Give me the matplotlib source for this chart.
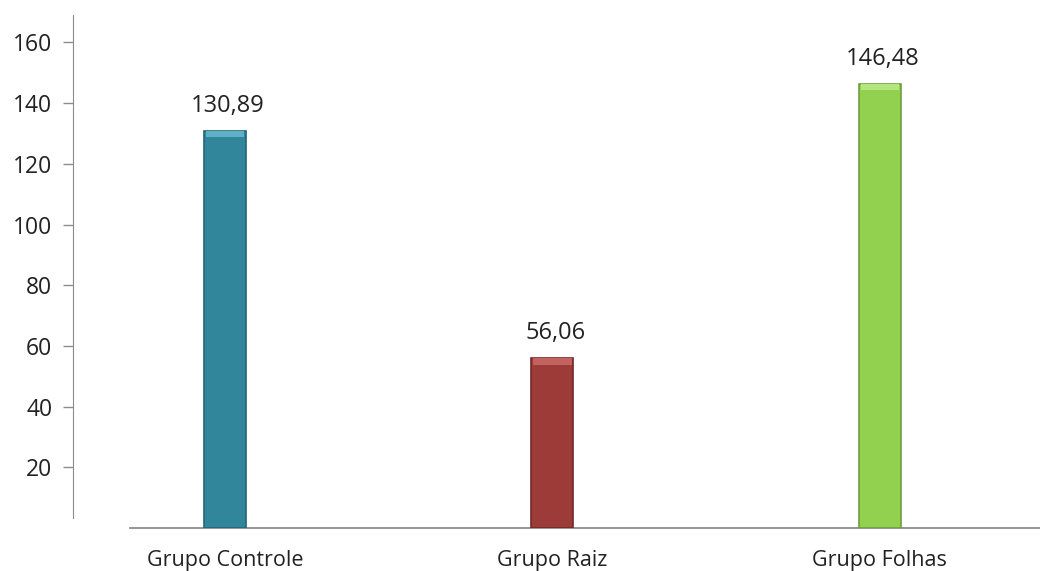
import matplotlib
matplotlib.use("Agg")
import matplotlib.pyplot as plt

plt.rcParams['font.family'] = ['Open Sans', 'DejaVu Sans']

categories = ["Grupo Controle", "Grupo Raiz", "Grupo Folhas"]
values = [130.89, 56.06, 146.48]
labels = ["130,89", "56,06", "146,48"]
colors = ["#31869B", "#9C3B38", "#92D050"]
edges = ["#236577", "#742927", "#6E9E3C"]
tops = ["#5FB0C6", "#C26360", "#B4E67E"]
yticks = [20, 40, 60, 80, 100, 120, 140, 160]

W, H = 1040, 571
fig = plt.figure(figsize=(W / 100, H / 100), dpi=100)
# axes spans from the y spine (x=73px) to the right edge, bottom at y=528px
ax = fig.add_axes([73 / W, (H - 528) / H, (W - 73) / W, 528 / H])

xpos = list(range(len(categories)))
bw = 0.128
ax.bar(xpos, values, width=bw, color=colors, edgecolor=edges, linewidth=1.2, zorder=3)
# light bevel on the top of each bar
ax.bar(xpos, [2.2] * 3, bottom=[v - 2.2 for v in values], width=bw * 0.92,
       color=tops, linewidth=0, zorder=4)

for x, v, lab in zip(xpos, values, labels):
    ax.annotate(lab, (x, v), xytext=(2, 9), textcoords="offset points",
                ha="center", va="bottom", fontsize=17, color="#222222")

ax.set_xlim(-0.464, 2.489)
ax.set_ylim(0, 174)
ax.set_xticks(xpos)
ax.set_xticklabels(categories, fontsize=15.5, color="#222222")
ax.set_yticks(yticks)
ax.set_yticklabels([str(t) for t in yticks], fontsize=16.5, color="#222222")

ax.tick_params(axis="x", length=0, pad=16)
ax.tick_params(axis="y", length=7, width=1, color="#8C8C8C", pad=8)

for s in ["top", "right"]:
    ax.spines[s].set_visible(False)
ax.spines["left"].set_color("#8C8C8C")
ax.spines["bottom"].set_color("#8C8C8C")
ax.spines["left"].set_bounds(3.3, 169)
ax.spines["bottom"].set_bounds(-0.29, 2.489)
ax.spines["bottom"].set_linewidth(1.3)

fig.savefig("out.png", dpi=100)
